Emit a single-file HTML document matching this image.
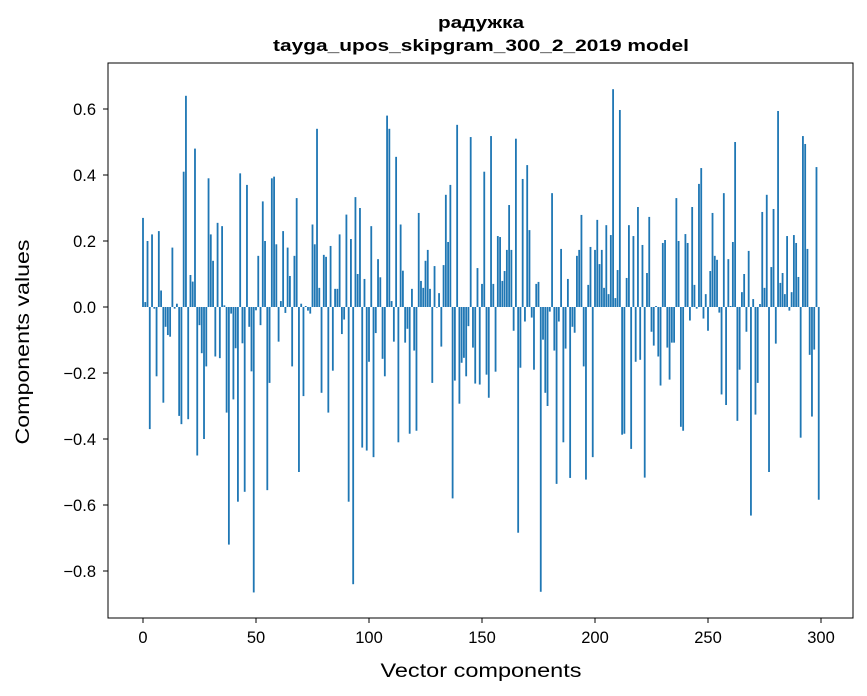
<!DOCTYPE html>
<html><head><meta charset="utf-8"><style>
html,body{margin:0;padding:0;background:#fff;}
svg{display:block;font-family:"Liberation Sans","DejaVu Sans",sans-serif;}
</style></head><body>
<svg id="chart" width="867" height="696">
<rect width="867" height="696" fill="#fff"/>
<text x="481" y="28" text-anchor="middle" font-size="17" font-weight="bold" textLength="86" lengthAdjust="spacingAndGlyphs">радужка</text>
<text x="481" y="51" text-anchor="middle" font-size="17" font-weight="bold" textLength="416" lengthAdjust="spacingAndGlyphs">tayga_upos_skipgram_300_2_2019 model</text>
<g id="bars"></g>
<rect x="108" y="63" width="745" height="555" fill="none" stroke="#000" stroke-width="1"/>
<g id="xticks"></g>
<g id="yticks"></g>
<text x="481" y="677" text-anchor="middle" font-size="19" textLength="201" lengthAdjust="spacingAndGlyphs">Vector components</text>
<text transform="translate(29,342) rotate(-90)" text-anchor="middle" font-size="19" textLength="205" lengthAdjust="spacingAndGlyphs">Components values</text>
</svg>
<script>
const values = [0.27,0.015,0.20,-0.37,0.22,-0.005,-0.21,0.23,0.05,-0.29,-0.06,-0.085,-0.09,0.18,-0.005,0.01,-0.33,-0.355,0.41,0.64,
-0.34,0.097,0.077,0.48,-0.45,-0.055,-0.14,-0.40,-0.18,0.39,0.22,0.14,-0.15,0.255,-0.155,0.245,0.005,-0.32,-0.72,-0.02,
-0.28,-0.125,-0.59,0.405,-0.11,-0.56,0.37,-0.06,-0.195,-0.865,-0.01,0.155,-0.055,0.32,0.20,-0.555,-0.23,0.39,0.395,0.19,
-0.105,0.018,0.23,-0.018,0.18,0.094,-0.18,0.155,0.33,-0.50,0.01,-0.27,0.003,-0.011,-0.02,0.25,0.19,0.54,0.058,-0.26,
0.158,0.152,-0.32,0.185,-0.193,0.055,0.055,0.22,-0.082,-0.038,0.28,-0.59,0.206,-0.84,0.333,0.10,0.30,-0.426,0.085,-0.435,
-0.166,0.245,-0.455,-0.079,0.145,0.09,-0.157,-0.21,0.58,0.54,0.018,-0.105,0.455,-0.41,0.25,0.11,-0.108,-0.066,-0.384,0.055,
-0.132,-0.375,0.285,0.079,0.058,0.14,0.173,0.055,-0.23,0.124,-0.002,0.042,-0.12,0.127,0.34,0.197,0.37,-0.58,-0.223,0.552,
-0.293,-0.169,-0.154,-0.21,-0.058,0.515,-0.123,-0.232,0.118,-0.235,0.07,0.41,-0.205,-0.275,0.518,0.07,-0.196,0.215,0.212,0.079,
0.109,0.173,0.309,0.173,-0.072,0.51,-0.684,-0.184,0.388,-0.044,0.43,0.233,-0.032,-0.19,0.07,0.076,-0.863,-0.099,-0.26,-0.30,
-0.014,0.345,-0.132,-0.536,-0.044,0.176,-0.41,-0.126,0.085,-0.518,-0.06,-0.078,0.155,0.173,0.279,-0.18,-0.523,0.067,0.182,-0.455,
0.173,0.264,0.13,0.173,0.058,0.248,0.039,0.218,0.66,0.027,0.112,0.597,-0.387,-0.384,0.088,0.248,-0.43,0.215,-0.166,0.303,
-0.16,0.188,-0.517,0.103,0.273,-0.075,-0.117,0.003,-0.15,-0.238,0.194,0.203,-0.123,-0.22,-0.108,-0.108,0.33,0.2,-0.363,-0.375,
0.221,0.194,-0.041,0.303,0.067,-0.005,0.373,0.421,-0.035,0.039,-0.072,0.109,0.285,0.155,0.143,-0.017,-0.265,0.345,-0.297,0.145,
0.003,0.197,0.5,-0.345,-0.19,0.045,0.1,-0.075,0.17,-0.632,0.024,-0.326,-0.23,0.009,0.288,0.058,0.34,-0.5,0.121,0.297,
-0.111,0.594,0.073,0.103,0.039,0.215,-0.011,0.045,0.218,0.194,0.091,-0.396,0.518,0.494,0.176,-0.145,-0.332,-0.129,0.424,-0.584];
const xTicks = [0,50,100,150,200,250,300];
const yTicks = [-0.8,-0.6,-0.4,-0.2,0.0,0.2,0.4,0.6];

const NS = "http://www.w3.org/2000/svg";
function xScale(i){ return 143 + i*2.26; }
function yScale(v){ return 307 - v*330; }
const bw = 0.8*2.26;
const barsG = document.getElementById('bars');
values.forEach((v,i)=>{
  const r = document.createElementNS(NS,'rect');
  const y0 = yScale(0), y1 = yScale(v);
  r.setAttribute('x', xScale(i)-bw/2);
  r.setAttribute('y', Math.min(y0,y1));
  r.setAttribute('width', bw);
  r.setAttribute('height', Math.max(Math.abs(y1-y0),0.3));
  r.setAttribute('fill', '#1f77b4');
  
  
  barsG.appendChild(r);
});
const xg = document.getElementById('xticks');
xTicks.forEach(t=>{
  const x = xScale(t);
  const l = document.createElementNS(NS,'line');
  l.setAttribute('x1',x); l.setAttribute('x2',x); l.setAttribute('y1',618); l.setAttribute('y2',623);
  l.setAttribute('stroke','#000');
  
  
  xg.appendChild(l);
  const tx = document.createElementNS(NS,'text');
  tx.setAttribute('x',x); tx.setAttribute('y',643); tx.setAttribute('text-anchor','middle'); tx.setAttribute('font-size','16.5');
  tx.textContent = t;
  
  
  xg.appendChild(tx);
});
const yg = document.getElementById('yticks');
yTicks.forEach(t=>{
  const y = yScale(t);
  const l = document.createElementNS(NS,'line');
  l.setAttribute('x1',103); l.setAttribute('x2',108); l.setAttribute('y1',y); l.setAttribute('y2',y);
  l.setAttribute('stroke','#000');
  
  
  yg.appendChild(l);
  const tx = document.createElementNS(NS,'text');
  tx.setAttribute('x',96); tx.setAttribute('y',y+6); tx.setAttribute('text-anchor','end'); tx.setAttribute('font-size','16.5');
  tx.textContent = (t<0?'\u2212':'') + Math.abs(t).toFixed(1);
  
  
  yg.appendChild(tx);
});
</script>
</body></html>
